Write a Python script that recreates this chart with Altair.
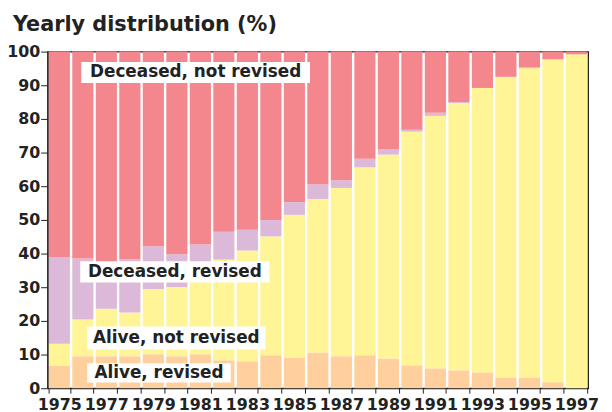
import altair as alt
import pandas as pd

years = list(range(1975, 1998))
alive_revised = [6.6, 9.5, 9.5, 9.5, 10.1, 9.5, 10.1, 8.3, 8.0, 9.8, 9.1, 10.6, 9.5, 9.8, 8.8, 6.8, 5.9, 5.3, 4.7, 3.2, 3.2, 1.8, 0.0]
alive_not_revised = [6.6, 10.9, 14.1, 13.0, 19.4, 20.6, 24.9, 29.9, 32.9, 35.3, 42.4, 45.6, 50.0, 55.8, 60.6, 69.4, 75.0, 79.4, 84.5, 89.3, 91.9, 95.9, 99.2]
deceased_revised = [25.7, 18.1, 13.9, 15.7, 12.7, 9.7, 7.7, 8.3, 6.2, 4.9, 3.8, 4.4, 2.3, 2.6, 1.5, 0.6, 0.9, 0.3, 0.0, 0.0, 0.3, 0.0, 0.0]
deceased_not_revised = [61.1, 61.5, 62.5, 61.8, 57.8, 60.2, 57.3, 53.5, 52.9, 50.0, 44.7, 39.4, 38.2, 31.8, 29.1, 23.2, 18.2, 15.0, 10.8, 7.5, 4.6, 2.3, 0.8]

categories = ["Alive, revised", "Alive, not revised", "Deceased, revised", "Deceased, not revised"]
colors = ["#FFD09E", "#FFF596", "#DDB9D9", "#F4868E"]
series = [alive_revised, alive_not_revised, deceased_revised, deceased_not_revised]
y_ticks = list(range(0, 101, 10))

rows = []
for ci, (cat, vals) in enumerate(zip(categories, series)):
    for y, v in zip(years, vals):
        rows.append({"year": y, "category": cat, "value": v, "order": ci})
df = pd.DataFrame(rows)

title_text = "Yearly distribution (%)"

# annotation label boxes (y in data units, x in pixels inside the plot)
ann_text = ["Deceased, not revised", "Deceased, revised", "Alive, not revised", "Alive, revised"]
ann_ytop = [96.9, 37.7, 18.3, 7.4]
ann_ybot = [90.7, 31.4, 11.5, 1.7]
ann_ymid = [93.8, 34.6, 14.9, 4.5]
ann_x0 = [34, 33, 40, 40]
ann_x1 = [265, 224, 220, 185]
ann = pd.DataFrame({"text": ann_text, "y0": ann_ytop, "y1": ann_ybot, "ym": ann_ymid,
                    "x0": ann_x0, "x1": ann_x1,
                    "xc": [(a + b) / 2 for a, b in zip(ann_x0, ann_x1)]})

FONT = "DejaVu Sans"
INK = "#222222"

y_axis = alt.Axis(values=y_ticks, tickSize=7, labelPadding=1, labelOverlap=False, title=None)
y_scale = alt.Scale(domain=[0, 100], nice=False)

bars = alt.Chart(df).mark_bar(stroke=None).encode(
    x=alt.X("year:O", title=None,
            scale=alt.Scale(paddingInner=0.1, paddingOuter=0.05),
            axis=alt.Axis(labelAngle=0, tickBand="extent",
                          labelExpr="datum.value % 2 == 1 ? datum.label : ''",
                          labelOverlap=False, tickSize=5, labelPadding=4)),
    y=alt.Y("value:Q", stack="zero", title=None, scale=y_scale, axis=y_axis),
    color=alt.Color("category:N", sort=categories,
                    scale=alt.Scale(domain=categories, range=colors), legend=None),
    order=alt.Order("order:Q", sort="ascending"),
)

boxes = alt.Chart(ann).mark_rect(color="white").encode(
    x=alt.X("x0:Q", scale=None, axis=None),
    x2="x1:Q",
    y=alt.Y("y0:Q", title=None, scale=y_scale, axis=y_axis),
    y2="y1:Q",
)

labels = alt.Chart(ann).mark_text(font=FONT, fontWeight="bold", fontSize=17,
                                  color=INK, align="center", baseline="middle").encode(
    x=alt.X("xc:Q", scale=None, axis=None),
    y=alt.Y("ym:Q", title=None, scale=y_scale, axis=y_axis),
    text="text:N",
)

title = alt.Chart(pd.DataFrame({"t": [title_text]})).mark_text(
    font=FONT, fontWeight="bold", fontSize=21, color=INK,
    align="left", baseline="alphabetic").encode(
    x=alt.value(-35), y=alt.value(-21), text="t:N")

chart = alt.layer(bars, boxes, labels, title).resolve_scale(x="independent").properties(
    width=546, height=340,
    background="white",
    autosize=alt.AutoSizeParams(type="none"),
    padding={"left": 40, "top": 42, "right": 16, "bottom": 22},
).configure_view(stroke=INK, strokeWidth=1.3).configure_axis(
    labelFont=FONT, labelFontSize=16, labelFontWeight="bold", labelColor=INK,
    domainColor=INK, tickColor=INK, grid=False, domainWidth=1.2,
)

chart.save("out.html", embed_options={"renderer": "svg", "actions": False})
